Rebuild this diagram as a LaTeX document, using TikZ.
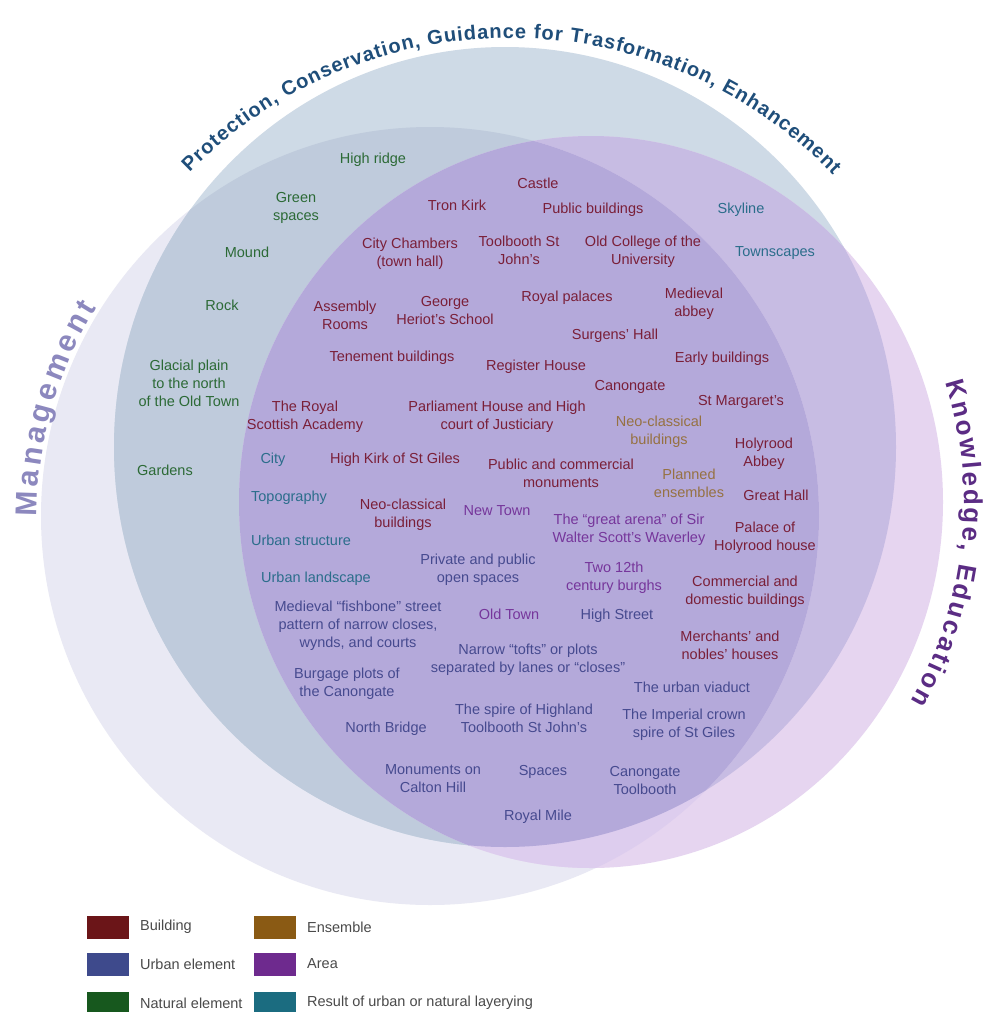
\documentclass[tikz,border=0pt]{standalone}
\usepackage{fontspec}
\setmainfont{Liberation Sans}
\usetikzlibrary{decorations.text}
\definecolor{cM}{HTML}{E9E9F4}
\definecolor{cP}{HTML}{CEDAE6}
\definecolor{cK}{HTML}{E6D5F0}
\definecolor{cMP}{HTML}{BFCBDC}
\definecolor{cPK}{HTML}{C7BCE3}
\definecolor{cMK}{HTML}{DDCDEE}
\definecolor{cMPK}{HTML}{B4A9DA}
\definecolor{tBuild}{HTML}{7A1F38}
\definecolor{tEns}{HTML}{967142}
\definecolor{tUrb}{HTML}{464A8F}
\definecolor{tArea}{HTML}{76369B}
\definecolor{tNat}{HTML}{2C6A36}
\definecolor{tLay}{HTML}{2B6D8B}
\definecolor{lBuild}{HTML}{6B1518}
\definecolor{lEns}{HTML}{8A5A14}
\definecolor{lUrb}{HTML}{3E4A8C}
\definecolor{lArea}{HTML}{6E2A8E}
\definecolor{lNat}{HTML}{17581E}
\definecolor{lLay}{HTML}{1B6C80}
\definecolor{cTitle}{HTML}{1F4E7A}
\definecolor{cMan}{HTML}{8C88BE}
\definecolor{cKno}{HTML}{5B2C84}
\definecolor{cLeg}{HTML}{4A4A4A}
\newcommand\titlefnt{\fontsize{20}{20}\selectfont\bfseries\color{cTitle}}
\newcommand\manfnt{\fontsize{30}{30}\selectfont\bfseries\color{cMan}}
\newcommand\knofnt{\fontsize{26}{26}\selectfont\bfseries\color{cKno}}
\begin{document}
\begin{tikzpicture}[x=1pt,y=1pt,
  lbl/.style={inner sep=0pt, align=center, font=\fontsize{14.5}{18}\selectfont},
  bld/.style={lbl, text=tBuild},
  ens/.style={lbl, text=tEns},
  urb/.style={lbl, text=tUrb},
  area/.style={lbl, text=tArea},
  nat/.style={lbl, text=tNat},
  lay/.style={lbl, text=tLay},
  swatch/.style={minimum width=42pt, minimum height=23pt, inner sep=0pt},
  leg/.style={inner sep=0pt, anchor=west, text=cLeg, font=\fontsize{14.5}{18}\selectfont}]
\useasboundingbox (0,0) rectangle (983,-1012);
\fill[white] (0,0) rectangle (983,-1012);
% circles
\fill[cM] (430,-516) circle[radius=389];
\fill[cP] (505,-447) ellipse[x radius=391, y radius=400];
\fill[cK] (591,-502) ellipse[x radius=352, y radius=366];
\begin{scope}
  \clip (430,-516) circle[radius=389];
  \fill[cMP] (505,-447) ellipse[x radius=391, y radius=400];
\end{scope}
\begin{scope}
  \clip (505,-447) ellipse[x radius=391, y radius=400];
  \fill[cPK] (591,-502) ellipse[x radius=352, y radius=366];
\end{scope}
\begin{scope}
  \clip (430,-516) circle[radius=389];
  \fill[cMK] (591,-502) ellipse[x radius=352, y radius=366];
\end{scope}
\begin{scope}
  \clip (430,-516) circle[radius=389];
  \clip (505,-447) ellipse[x radius=391, y radius=400];
  \fill[cMPK] (591,-502) ellipse[x radius=352, y radius=366];
\end{scope}
% arc titles
\path[decorate, decoration={text along path, text align={fit to path},
  text={|\titlefnt|Protection, Conservation, Guidance for Trasformation, Enhancement}}]
  (510,-487) ++(135.5:449) arc[start angle=135.5, end angle=44, radius=449];
\path[decorate, decoration={text along path, text align={fit to path},
  text={|\manfnt|Management}}]
  (430,-516) ++(180:393) arc[start angle=180, end angle=148, radius=393];
\path[decorate, decoration={text along path, text align={fit to path},
  text={|\knofnt|Knowledge, Education}}]
  (591,-502) ++(18:373 and 386) arc[start angle=18, end angle=-31, x radius=373, y radius=386];
% natural elements
\node[nat] (highridge) at (373,-160) {High ridge};
\node[nat] (green) at (296,-208) {Green\\spaces};
\node[nat] (mound) at (247,-252) {Mound};
\node[nat] (rock) at (222,-305) {Rock};
\node[nat] (glacial) at (189,-383) {Glacial plain\\to the north\\of the Old Town};
\node[nat] (gardens) at (165,-470) {Gardens};
% buildings
\node[bld] (castle) at (538,-183) {Castle};
\node[bld] (tron) at (457,-205) {Tron Kirk};
\node[bld] (pubb) at (593,-210) {Public buildings};
\node[bld] (citych) at (410,-254) {City Chambers\\(town hall)};
\node[bld] (toolsj) at (519,-250) {Toolbooth St\\John's};
\node[bld] (oldcol) at (643,-252) {Old College of the\\University};
\node[bld] (assembly) at (345,-315) {Assembly\\Rooms};
\node[bld] (heriot) at (445,-311) {George\\Heriot's School};
\node[bld] (royalpal) at (567,-298) {Royal palaces};
\node[bld] (medabbey) at (694,-304) {Medieval\\abbey};
\node[bld] (surgens) at (615,-336) {Surgens' Hall};
\node[bld] (tenement) at (392,-358) {Tenement buildings};
\node[bld] (register) at (536,-367) {Register House};
\node[bld] (early) at (722,-359) {Early buildings};
\node[bld] (canongate) at (630,-387) {Canongate};
\node[bld] (stmarg) at (741,-402) {St Margaret's};
\node[bld] (rsa) at (305,-417) {The Royal\\Scottish Academy};
\node[bld] (parl) at (497,-417) {Parliament House and High\\court of Justiciary};
\node[bld] (highkirk) at (395,-460) {High Kirk of St Giles};
\node[bld] (pubcom) at (561,-473) {Public and commercial\\monuments};
\node[bld] (holyabbey) at (764,-454) {Holyrood\\Abbey};
\node[bld] (greathall) at (776,-495) {Great Hall};
\node[bld] (neocA) at (403,-515) {Neo-classical\\buildings};
\node[bld] (palace) at (765,-538) {Palace of\\Holyrood house};
\node[bld] (commdom) at (745,-592) {Commercial and\\domestic buildings};
\node[bld] (merch) at (730,-645) {Merchants' and\\nobles' houses};
% ensembles
\node[ens] (neocB) at (659,-432) {Neo-classical\\buildings};
\node[ens] (planned) at (689,-483) {Planned\\ensembles};
% layering
\node[lay] (skyline) at (741,-210) {Skyline};
\node[lay] (townsc) at (775,-253) {Townscapes};
\node[lay] (city) at (273,-460) {City};
\node[lay] (topo) at (289,-498) {Topography};
\node[lay] (urbstr) at (301,-540) {Urban structure};
\node[lay] (urbland) at (316,-579) {Urban landscape};
% areas
\node[area] (newtown) at (497,-511) {New Town};
\node[area] (arena) at (629,-530) {The “great arena” of Sir\\Walter Scott's Waverley};
\node[area] (twoburghs) at (614,-578) {Two 12th\\century burghs};
\node[area] (oldtown) at (509,-614) {Old Town};
% urban elements
\node[urb] (privpub) at (478,-570) {Private and public\\open spaces};
\node[urb] (highst) at (617,-616) {High Street};
\node[urb] (fishbone) at (358,-626) {Medieval “fishbone” street\\pattern of narrow closes,\\wynds, and courts};
\node[urb] (tofts) at (528,-660) {Narrow “tofts” or plots\\separated by lanes or “closes”};
\node[urb] (burgage) at (347,-684) {Burgage plots of\\the Canongate};
\node[urb] (viaduct) at (692,-687) {The urban viaduct};
\node[urb] (spire) at (524,-718) {The spire of Highland\\Toolbooth St John's};
\node[urb] (northbr) at (386,-729) {North Bridge};
\node[urb] (crown) at (684,-725) {The Imperial crown\\spire of St Giles};
\node[urb] (calton) at (433,-779) {Monuments on\\Calton Hill};
\node[urb] (spaces) at (543,-772) {Spaces};
\node[urb] (cgtool) at (645,-780) {Canongate\\Toolbooth};
\node[urb] (royalmile) at (538,-817) {Royal Mile};
% legend
\node[swatch, fill=lBuild] (swA) at (108,-927) {};
\node[leg] (lgA) at (140,-927) {Building};
\node[swatch, fill=lUrb] (swB) at (108,-964) {};
\node[leg] (lgB) at (140,-964) {Urban element};
\node[swatch, fill=lNat] (swC) at (108,-1003) {};
\node[leg] (lgC) at (140,-1003) {Natural element};
\node[swatch, fill=lEns] (swD) at (275,-927) {};
\node[leg] (lgD) at (307,-927) {Ensemble};
\node[swatch, fill=lArea] (swE) at (275,-964) {};
\node[leg] (lgE) at (307,-964) {Area};
\node[swatch, fill=lLay] (swF) at (275,-1003) {};
\node[leg] (lgF) at (307,-1003) {Result of urban or natural layerying};
\end{tikzpicture}
\end{document}
